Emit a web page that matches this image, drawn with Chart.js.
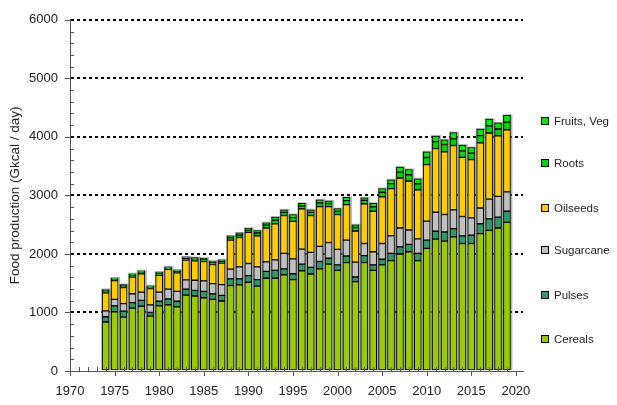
<!DOCTYPE html>
<html>
<head>
<meta charset="utf-8">
<title>Food production</title>
<script src="https://cdn.jsdelivr.net/npm/chart.js@4/dist/chart.umd.min.js"></script>
<style>
  html, body { margin: 0; padding: 0; background: #fff; }
  #wrap { position: relative; width: 617px; height: 405px; }
  #legend { position: absolute; left: 0; top: 0; font: 11.5px "Liberation Sans", Arial, sans-serif; color: #222; }
  .item { position: absolute; left: 541px; height: 16px; display: flex; align-items: center; white-space: nowrap; }
  .box { width: 6px; height: 6px; border: 1px solid #000; margin-right: 5px; }
</style>
</head>
<body>
<div id="wrap">
  <canvas id="foodChart" width="617" height="405"></canvas>
  <div id="legend"></div>
</div>
<script>
// Yearly food production by crop group (Gkcal / day)
const years = [1974, 1975, 1976, 1977, 1978, 1979, 1980, 1981, 1982, 1983,
               1984, 1985, 1986, 1987, 1988, 1989, 1990, 1991, 1992, 1993,
               1994, 1995, 1996, 1997, 1998, 1999, 2000, 2001, 2002, 2003,
               2004, 2005, 2006, 2007, 2008, 2009, 2010, 2011, 2012, 2013,
               2014, 2015, 2016, 2017, 2018, 2019];

const cereals = [837, 1011, 921, 1073, 1106, 938, 1112, 1129, 1095, 1297,
                 1281, 1252, 1224, 1196, 1460, 1471, 1516, 1449, 1584, 1584,
                 1645, 1561, 1713, 1657, 1746, 1825, 1718, 1853, 1527, 1853,
                 1718, 1814, 1887, 1999, 2038, 1887, 2094, 2252, 2218, 2291,
                 2179, 2179, 2347, 2403, 2443, 2538];

const pulses = [90, 101, 101, 95, 101, 62, 79, 101, 96, 101,
                95, 107, 96, 96, 113, 102, 113, 112, 118, 135,
                101, 101, 112, 112, 124, 101, 96, 112, 79, 118,
                96, 95, 123, 124, 124, 123, 141, 135, 157, 141,
                129, 140, 169, 197, 185, 191];

const sugarcane = [101, 112, 129, 152, 141, 129, 157, 168, 168, 158,
                   174, 180, 174, 185, 168, 207, 208, 219, 163, 179,
                   264, 253, 258, 258, 258, 270, 264, 270, 253, 208,
                   224, 270, 298, 320, 247, 247, 326, 325, 298, 320,
                   331, 298, 269, 337, 354, 332];

const oilseeds = [309, 321, 275, 286, 314, 281, 286, 337, 320, 337,
                  332, 331, 326, 365, 494, 500, 533, 528, 578, 618,
                  646, 640, 686, 629, 680, 612, 595, 607, 533, 679,
                  691, 798, 809, 854, 837, 837, 966, 1090, 1073, 1101,
                  1011, 994, 1113, 1129, 1034, 1061];

const roots = [31, 24, 28, 31, 28, 25, 31, 25, 25, 31,
               31, 31, 31, 31, 40, 43, 37, 50, 50, 62,
               53, 65, 52, 53, 65, 52, 55, 68, 59, 56,
               74, 77, 83, 100, 107, 104, 120, 117, 124, 112,
               110, 110, 124, 124, 118, 131];

const fruitsVeg = [25, 20, 23, 25, 23, 20, 25, 20, 20, 25,
                   25, 26, 25, 25, 33, 36, 31, 40, 40, 51,
                   43, 53, 43, 43, 53, 43, 46, 55, 48, 46,
                   61, 63, 68, 85, 90, 87, 99, 96, 78, 107,
                   98, 98, 111, 112, 106, 116];

const yTicks = [0, 1000, 2000, 3000, 4000, 5000, 6000];
const xTickYears = [1970, 1975, 1980, 1985, 1990, 1995, 2000, 2005, 2010, 2015, 2020];

const FONT = '"Liberation Sans", Arial, sans-serif';
const TEXT = '#222';
const AXIS = '#555';

function series(label, values, color) {
    return {
        label: label,
        data: years.map((yr, i) => ({ x: yr, y: values[i] })),
        backgroundColor: color,
        borderColor: '#000',
        borderWidth: 1,
        borderSkipped: false,
        barThickness: 7
    };
}

// Grey halo behind each stacked column
const barHalo = {
    id: 'barHalo',
    beforeDatasetsDraw(chart) {
        const ctx = chart.ctx;
        const n = chart.data.datasets.length;
        const first = chart.getDatasetMeta(0).data;
        const last = chart.getDatasetMeta(n - 1).data;
        ctx.save();
        ctx.fillStyle = 'rgba(120,120,120,0.55)';
        last.forEach((bar, i) => {
            const base = first[i].base;
            ctx.fillRect(bar.x - bar.width / 2 - 1, bar.y - 1, bar.width + 3, base - bar.y + 1);
        });
        ctx.restore();
    }
};

// Major and minor tick marks on both axes
const axisTicks = {
    id: 'axisTicks',
    afterDraw(chart) {
        const { ctx, chartArea: a, scales: { x, y } } = chart;
        ctx.save();
        ctx.strokeStyle = AXIS;
        ctx.lineWidth = 1;
        ctx.beginPath();
        for (let v = 0; v <= 6000; v += 200) {
            const py = Math.round(y.getPixelForValue(v)) + 0.5;
            if (yTicks.includes(v)) {
                ctx.moveTo(a.left - 5, py); ctx.lineTo(a.left, py);
            } else {
                ctx.moveTo(a.left, py); ctx.lineTo(a.left + 4, py);
            }
        }
        for (let yr = 1970; yr <= 2020; yr++) {
            const px = Math.round(x.getPixelForValue(yr)) + 0.5;
            if (xTickYears.includes(yr)) {
                ctx.moveTo(px, a.bottom); ctx.lineTo(px, a.bottom + 5);
            } else {
                ctx.moveTo(px, a.bottom); ctx.lineTo(px, a.bottom - 4);
            }
        }
        ctx.stroke();
        ctx.restore();
    }
};

const chart = new Chart(document.getElementById('foodChart'), {
    type: 'bar',
    data: {
        datasets: [
            series('Cereals', cereals, '#99CC00'),
            series('Pulses', pulses, '#339966'),
            series('Sugarcane', sugarcane, '#C0C0C0'),
            series('Oilseeds', oilseeds, '#FFCC00'),
            series('Roots', roots, '#00D400'),
            series('Fruits, Veg', fruitsVeg, '#00E600')
        ]
    },
    options: {
        responsive: false,
        animation: false,
        layout: { padding: { top: 15, right: 94, left: 0, bottom: 0 } },
        plugins: {
            legend: { display: false },
            tooltip: { enabled: false }
        },
        scales: {
            x: {
                type: 'linear',
                stacked: true,
                offset: false,
                min: 1970,
                max: 2020.8,
                afterFit: s => { s.height = 34; },
                afterBuildTicks: s => { s.ticks = xTickYears.map(v => ({ value: v })); },
                ticks: {
                    padding: 13,
                    maxRotation: 0,
                    autoSkip: false,
                    color: TEXT,
                    font: { family: FONT, size: 13 },
                    callback: v => String(v)
                },
                grid: { display: false, drawTicks: false, offset: false },
                border: { color: AXIS }
            },
            y: {
                stacked: true,
                min: 0,
                max: 6000,
                afterFit: s => { s.width = 70; },
                afterBuildTicks: s => { s.ticks = yTicks.map(v => ({ value: v })); },
                ticks: {
                    padding: 12,
                    color: TEXT,
                    font: { family: FONT, size: 13 },
                    callback: v => String(v)
                },
                grid: {
                    drawTicks: false,
                    lineWidth: 2,
                    color: c => (c.tick && c.tick.value === 0) ? 'rgba(0,0,0,0)' : '#000'
                },
                border: { color: AXIS, dash: [3, 3] },
                title: {
                    display: true,
                    text: 'Food production (Gkcal / day)',
                    color: TEXT,
                    font: { family: FONT, size: 13.5 },
                    padding: { top: 7, bottom: 0 }
                }
            }
        }
    },
    plugins: [barHalo, axisTicks]
});

// Legend on the right, top entry is the top of the stack
const legendCenters = [121, 163, 208, 250, 295, 339];
const legend = document.getElementById('legend');
chart.data.datasets.slice().reverse().forEach((ds, i) => {
    const item = document.createElement('div');
    item.className = 'item';
    item.style.top = (legendCenters[i] - 8) + 'px';
    const box = document.createElement('span');
    box.className = 'box';
    box.style.background = ds.backgroundColor;
    const label = document.createElement('span');
    label.textContent = ds.label;
    item.appendChild(box);
    item.appendChild(label);
    legend.appendChild(item);
});
</script>
</body>
</html>
